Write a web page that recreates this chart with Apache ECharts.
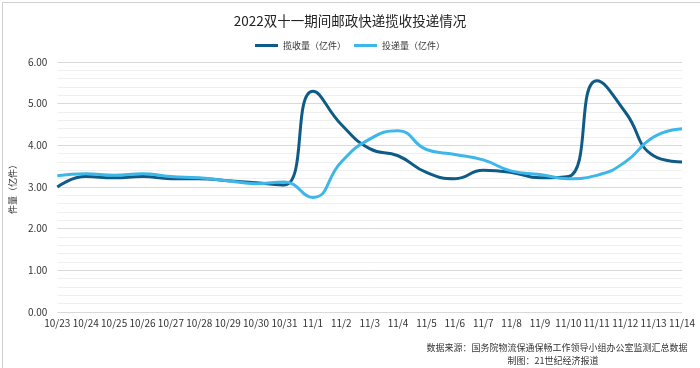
<!DOCTYPE html>
<html><head><meta charset="utf-8">
<script src="https://cdn.jsdelivr.net/npm/echarts@6/dist/echarts.min.js"></script>
<style>html,body{margin:0;padding:0;background:#fff}#c{width:700px;height:368px}</style>
</head><body><div id="c"></div>
<script>
const categories = ['10/23','10/24','10/25','10/26','10/27','10/28','10/29','10/30','10/31','11/1','11/2','11/3','11/4','11/5','11/6','11/7','11/8','11/9','11/10','11/11','11/12','11/13','11/14'];
const collected = [3.0,3.25,3.22,3.25,3.2,3.2,3.15,3.1,3.05,5.3,4.5,3.92,3.75,3.35,3.2,3.4,3.35,3.22,3.25,5.55,4.8,3.75,3.6];
const delivered = [3.27,3.32,3.28,3.32,3.25,3.22,3.15,3.08,3.12,2.75,3.6,4.15,4.35,3.9,3.78,3.65,3.38,3.3,3.2,3.28,3.6,4.2,4.4];
const seriesNames = ['揽收量（亿件）','投递量（亿件）'];
const font = '"Noto Sans CJK SC", "Noto Sans", sans-serif';
const chart = echarts.init(document.getElementById('c'));
chart.setOption({
  animation:false,
  textStyle:{fontFamily:font},
  title:{text:'2022双十一期间邮政快递揽收投递情况',left:'center',top:9,textStyle:{fontSize:13.5,fontWeight:'normal',color:'#222',fontFamily:font}},
  legend:{top:36,left:'center',itemWidth:23,itemHeight:3,itemGap:8,icon:'rect',textStyle:{fontSize:9,color:'#333'},data:seriesNames},
  grid:{left:50,right:18,top:62,bottom:56},
  xAxis:{type:'category',data:categories,boundaryGap:false,
    axisLine:{show:false},axisTick:{show:false},
    axisLabel:{fontSize:10,color:'#333',margin:6,interval:0}},
  yAxis:{type:'value',min:0,max:6,interval:1,name:'件量（亿件）',nameLocation:'middle',nameGap:25,nameRotate:90,
    nameTextStyle:{fontSize:9,color:'#333'},
    axisLabel:{formatter:v=>v.toFixed(2),fontSize:10,color:'#333',margin:10},
    splitLine:{lineStyle:{color:'#d9d9d9',width:1}},
    minorTick:{show:false,splitNumber:5},
    minorSplitLine:{show:true,lineStyle:{color:'#efefef',width:1}}},
  series:[
    {name:seriesNames[0],type:'line',data:collected,smooth:0.5,symbol:'none',lineStyle:{width:3,color:'#0f5b87'},itemStyle:{color:'#0f5b87'}},
    {name:seriesNames[1],type:'line',data:delivered,smooth:0.5,symbol:'none',lineStyle:{width:3,color:'#3db6e8'},itemStyle:{color:'#3db6e8'}}
  ],
  graphic:[
    {type:'rect',left:0,top:0,shape:{width:699,height:367},style:{fill:'none',stroke:'#d0d0d0',lineWidth:1},silent:true},
    {type:'text',x:557,y:343,style:{text:'数据来源：国务院物流保通保畅工作领导小组办公室监测汇总数据',textAlign:'center',fontSize:9,fill:'#333',fontFamily:font}},
    {type:'text',x:553,y:356,style:{text:'制图：21世纪经济报道',textAlign:'center',fontSize:9,fill:'#333',fontFamily:font}}
  ]
});
</script></body></html>
